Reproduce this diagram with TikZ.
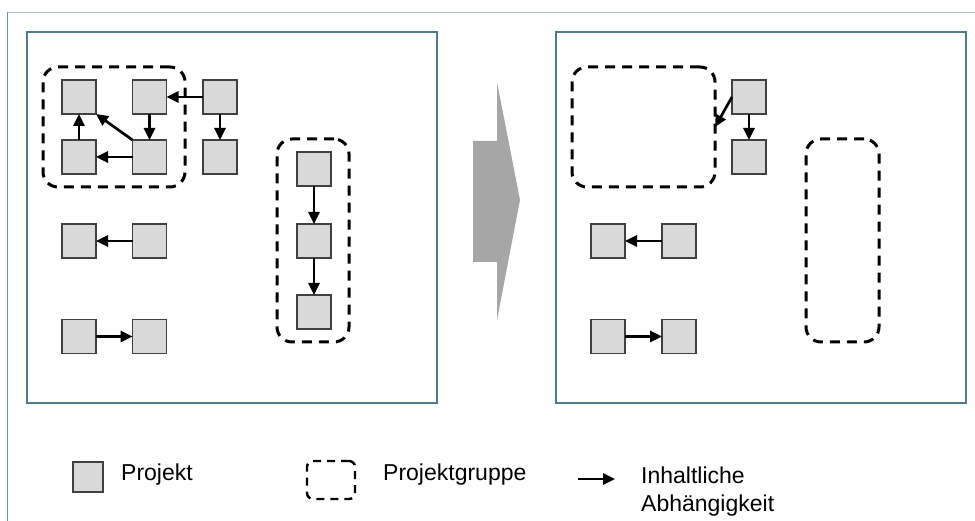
\documentclass[tikz,border=0pt]{standalone}
\usepackage{fontspec}
\setmainfont{Liberation Sans}
\usepackage{tikz}
\usetikzlibrary{arrows.meta}

\definecolor{frame}{RGB}{78,122,138}
\definecolor{topline}{RGB}{169,196,208}
\definecolor{leftline}{RGB}{110,145,155}
\definecolor{projfill}{RGB}{217,217,217}
\definecolor{projdraw}{RGB}{64,64,64}
\definecolor{bigarrow}{RGB}{166,166,166}

\tikzset{
  proj/.style={draw=projdraw, fill=projfill, line width=1.8pt, minimum size=34pt, inner sep=0, outer sep=0},
  grp/.style={draw=black, line width=3pt, dash pattern=on 10pt off 7pt, rounded corners=15pt, inner sep=0, outer sep=0},
  dep/.style={line width=2.7pt, -{Triangle[length=12pt,width=11pt]}},
  panel/.style={draw=frame, line width=1.5pt},
  legtext/.style={font=\fontsize{23}{28}\selectfont, inner sep=0}
}

\begin{document}
\begin{tikzpicture}[x=1pt, y=-1pt]
\useasboundingbox (0,0) rectangle (975,521);

\draw [topline, line width=1.5pt] (7,12.5) -- (975,12.5);
\draw [leftline, line width=1.5pt] (7.5,12) -- (7.5,521);

\draw [panel] (27,32) rectangle (437,403);
\draw [panel] (556,32) rectangle (966,403);

\fill [bigarrow] (473,141) -- (497,141) -- (497,82) -- (520,200) -- (497,320) -- (497,262) -- (473,262) -- cycle;

% left panel
\node [grp, minimum width=142pt, minimum height=120pt] (g1) at (114,127) {};
\node [grp, minimum width=72pt, minimum height=203pt] (g2) at (313,240.5) {};

\node [proj] (a) at (79,97) {};
\node [proj] (b) at (149.5,97) {};
\node [proj] (c) at (220,97) {};
\node [proj] (d) at (79,157) {};
\node [proj] (e) at (149.5,157) {};
\node [proj] (f) at (220,157) {};
\node [proj] (g) at (79,241) {};
\node [proj] (h) at (149.5,241) {};
\node [proj] (i) at (79,336.5) {};
\node [proj] (j) at (149.5,336.5) {};
\node [proj] (k) at (314,169) {};
\node [proj] (l) at (314,241) {};
\node [proj] (m) at (314,312) {};

\draw [dep] (c) -- (b);
\draw [dep] (b) -- (e);
\draw [dep] (e) -- (d);
\draw [dep] (d) -- (a);
\draw [dep] (e.north west) -- (a.south east);
\draw [dep] (c) -- (f);
\draw [dep] (h) -- (g);
\draw [dep] (i) -- (j);
\draw [dep] (k) -- (l);
\draw [dep] (l) -- (m);

% right panel
\node [grp, minimum width=143pt, minimum height=120pt] (g3) at (643.5,127) {};
\node [grp, minimum width=73pt, minimum height=203pt] (g4) at (842.5,240.5) {};

\node [proj] (c2) at (749,97) {};
\node [proj] (f2) at (749,157) {};
\node [proj] (g2b) at (608,241) {};
\node [proj] (h2) at (679,241) {};
\node [proj] (i2) at (608,336.5) {};
\node [proj] (j2) at (679,336.5) {};

\draw [dep] (c2.west) -- (g3.east);
\draw [dep] (c2) -- (f2);
\draw [dep] (h2) -- (g2b);
\draw [dep] (i2) -- (j2);

% legend
\node [proj, minimum size=30pt] (lp) at (88,477) {};
\node [legtext, anchor=west] (lpt) at (121,475) {Projekt};
\node [grp, line width=2.4pt, dash pattern=on 8pt off 6pt, rounded corners=6pt, minimum width=48pt, minimum height=38pt] (lg) at (331,480) {};
\node [legtext, anchor=west] (lgt) at (383,475) {Projektgruppe};
\coordinate (la) at (578,479);
\coordinate (lb) at (615,479);
\draw [dep] (la) -- (lb);
\node [legtext, anchor=north west, align=left] (lat) at (641,467) {Inhaltliche\\Abhängigkeit};

\end{tikzpicture}
\end{document}
